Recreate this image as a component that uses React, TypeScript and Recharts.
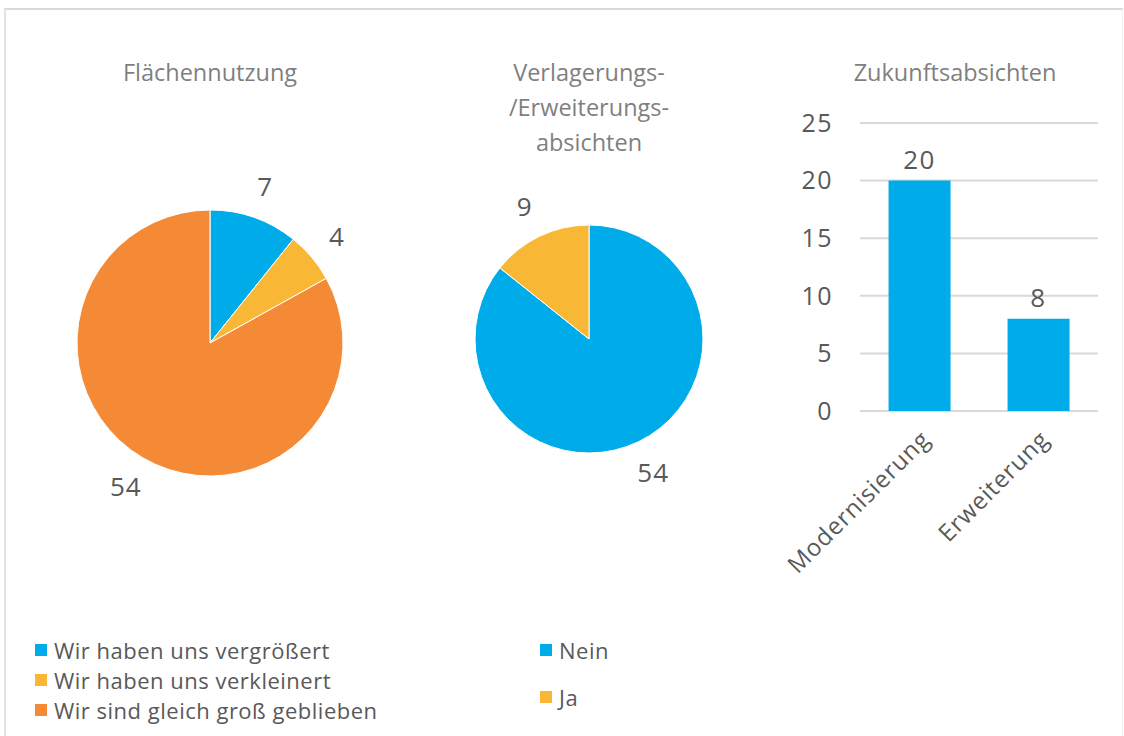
import { Bar, BarChart, CartesianGrid, LabelList, Pie, PieChart, XAxis, YAxis, Cell } from "recharts";

const BLUE = "#00abe9";
const YELLOW = "#f8b836";
const ORANGE = "#f48a35";
const FONT = "'Open Sans', sans-serif";

// Flächennutzung
const flaecheLabels = ["Wir haben uns vergrößert", "Wir haben uns verkleinert", "Wir sind gleich groß geblieben"];
const flaecheValues = [7, 4, 54];
const flaecheColors = [BLUE, YELLOW, ORANGE];

// Verlagerungs-/Erweiterungsabsichten
const verlagLabels = ["Nein", "Ja"];
const verlagValues = [54, 9];
const verlagColors = [BLUE, YELLOW];

// Zukunftsabsichten
const zukunftCats = ["Modernisierung", "Erweiterung"];
const zukunftValues = [20, 8];
const zukunftTicks = [0, 5, 10, 15, 20, 25];

const flaecheData = flaecheLabels.map((name, i) => ({ name, value: flaecheValues[i] }));
const verlagData = verlagLabels.map((name, i) => ({ name, value: verlagValues[i] }));
const zukunftData = zukunftCats.map((name, i) => ({ name, value: zukunftValues[i] }));

const RAD = Math.PI / 180;

function outsideLabel(gap: number) {
  return (p: any) => {
    const r = p.outerRadius + gap;
    const x = p.cx + r * Math.cos(-p.midAngle * RAD);
    const y = p.cy + r * Math.sin(-p.midAngle * RAD);
    return (
      <text x={x} y={y} textAnchor="middle" dominantBaseline="central" fill="#595959" fontSize={26} letterSpacing={1} fontFamily={FONT}>
        {p.value}
      </text>
    );
  };
}

const titleStyle: React.CSSProperties = {
  position: "absolute",
  color: "#7f7f7f",
  fontSize: 23.5,
  lineHeight: "35px",
  textAlign: "center",
  fontFamily: FONT,
};

function LegendRow({ color, text, top, left }: { color: string; text: string; top: number; left: number }) {
  return (
    <div style={{ position: "absolute", left, top, display: "flex", alignItems: "center", fontSize: 22, letterSpacing: 0.5, lineHeight: "26px", color: "#595959", fontFamily: FONT, whiteSpace: "nowrap" }}>
      <i style={{ display: "inline-block", width: 12, height: 12, background: color, marginRight: 7 }} />
      <span>{text}</span>
    </div>
  );
}

const tickStyle = { fontSize: 25, fill: "#595959", fontFamily: FONT, letterSpacing: 1.5 };

export default function App() {
  return (
    <div style={{ position: "absolute", left: 0, top: 0, width: 1124, height: 736, background: "#fff", overflow: "hidden" }}>
      <div style={{ position: "absolute", left: 4, top: 8, width: 1116, height: 740, borderTop: "2px solid #d9d9d9", borderLeft: "2px solid #e3e3e3", borderRight: "1px solid #f0f0f0" }} />

      <div style={{ ...titleStyle, left: 60, top: 55, width: 300 }}>Flächennutzung</div>
      <div style={{ ...titleStyle, left: 439, top: 55, width: 300 }}>
        Verlagerungs-<br />/Erweiterungs-<br />absichten
      </div>
      <div style={{ ...titleStyle, left: 805, top: 55, width: 300 }}>Zukunftsabsichten</div>

      <div style={{ position: "absolute", left: 5, top: 138 }}>
        <PieChart width={400} height={400}>
          <Pie data={flaecheData} dataKey="value" cx={200} cy={200} outerRadius={133} startAngle={90} endAngle={-270} stroke="#fff" strokeWidth={1} label={outsideLabel(33)} labelLine={false} isAnimationActive={false}>
            {flaecheData.map((d, i) => <Cell key={d.name} fill={flaecheColors[i]} />)}
          </Pie>
        </PieChart>
      </div>

      <div style={{ position: "absolute", left: 384, top: 134 }}>
        <PieChart width={400} height={400}>
          <Pie data={verlagData} dataKey="value" cx={200} cy={200} outerRadius={114} startAngle={90} endAngle={-270} stroke="#fff" strokeWidth={1} label={outsideLabel(34)} labelLine={false} isAnimationActive={false}>
            {verlagData.map((d, i) => <Cell key={d.name} fill={verlagColors[i]} />)}
          </Pie>
        </PieChart>
      </div>

      <div style={{ position: "absolute", left: 780, top: 100 }}>
        <BarChart width={340} height={480} data={zukunftData} margin={{ top: 23, right: 22, bottom: 9, left: 0 }} barCategoryGap="24%">
          <CartesianGrid stroke="#d9d9d9" strokeWidth={2} vertical={false} />
          <XAxis dataKey="name" axisLine={false} tickLine={false} height={160} interval={0} angle={-45} textAnchor="end" tick={{ fontSize: 24, fill: "#595959", fontFamily: FONT, letterSpacing: 0.8 }} tickMargin={12} />
          <YAxis domain={[0, 25]} ticks={zukunftTicks} axisLine={false} tickLine={false} width={80} tickSize={6} tickMargin={21} tick={tickStyle} />
          <Bar dataKey="value" fill={BLUE} isAnimationActive={false}>
            <LabelList dataKey="value" position="top" offset={12} fill="#595959" fontSize={26} letterSpacing={1.5} fontFamily={FONT} />
          </Bar>
        </BarChart>
      </div>

      {flaecheLabels.map((t, i) => (
        <LegendRow key={t} color={flaecheColors[i]} text={t} left={35} top={637 + i * 30} />
      ))}
      <LegendRow color={verlagColors[0]} text={verlagLabels[0]} left={540} top={637} />
      <LegendRow color={verlagColors[1]} text={verlagLabels[1]} left={540} top={684} />
    </div>
  );
}
